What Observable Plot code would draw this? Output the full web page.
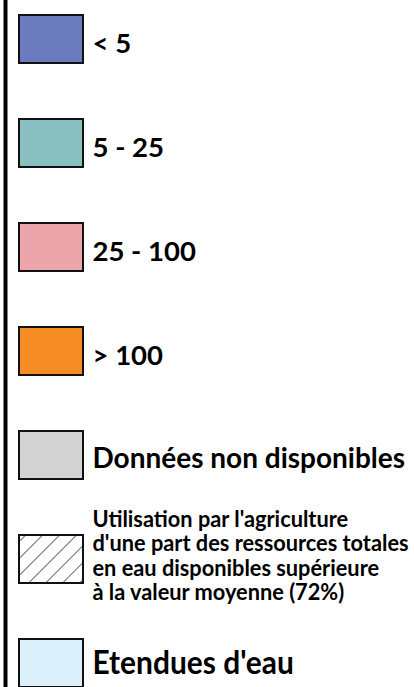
<!DOCTYPE html>
<html>
<head>
<meta charset="utf-8">
<script src="https://cdn.jsdelivr.net/npm/d3@7"></script>
<script src="https://cdn.jsdelivr.net/npm/@observablehq/plot@0.6"></script>
<style>
  html, body { margin: 0; padding: 0; background: #fff; }
  #chart { width: 414px; height: 687px; overflow: hidden; }
</style>
</head>
<body>
<div id="chart"></div>
<script>
const categories = ["< 5", "5 - 25", "25 - 100", "> 100", "Données non disponibles", "hatch", "Etendues d'eau"];
const labels = ["< 5", "5 - 25", "25 - 100", "> 100", "Données non disponibles",
  "Utilisation par l'agriculture\nd'une part des ressources totales\nen eau disponibles supérieure\nà la valeur moyenne (72%)",
  "Etendues d'eau"];
const swatchFills = ["#6b7bbd", "#88bfc1", "#eca6ab", "#f68d24", "#d3d3d3", "url(#hatch)", "#dcf0fb"];
const groups = ["range", "range", "range", "range", "na", "hatch", "water"];

const items = categories.map((c, i) => ({key: c, label: labels[i], fill: swatchFills[i], group: groups[i]}));
const font = "Lato, 'Open Sans', sans-serif";

const plot = Plot.plot({
  width: 414,
  height: 687,
  marginTop: 0, marginBottom: 0, marginRight: 0, marginLeft: 5,
  style: {fontFamily: font, background: "#fff", color: "#000"},
  x: {type: "band", domain: ["swatch"], range: [19, 83], padding: 0, axis: null},
  y: {type: "band", domain: categories, range: [15, 690], paddingInner: 1 - 48 / 104.5, paddingOuter: 0, align: 0, axis: null},
  color: {type: "identity"},
  marks: [
    Plot.frame({anchor: "left", stroke: "#000", strokeWidth: 4}),
    Plot.cell(items, {x: () => "swatch", y: "key", fill: "fill", stroke: "#111", strokeWidth: 2, inset: 0}),
    Plot.text(items.filter(d => d.group === "range"), {x: () => "swatch", y: "key", text: "label", textAnchor: "start", dx: 41, dy: 5, fontSize: 27.5, fontWeight: "bold"}),
    Plot.text(items.filter(d => d.group === "na"), {x: () => "swatch", y: "key", text: "label", textAnchor: "start", dx: 41, dy: 4, fontSize: 28, fontWeight: "bold"}),
    Plot.text(items.filter(d => d.group === "hatch"), {x: () => "swatch", y: "key", text: "label", textAnchor: "start", dx: 41, dy: -4, fontSize: 22, lineHeight: 1.11, fontWeight: "bold"}),
    Plot.text(items.filter(d => d.group === "water"), {x: () => "swatch", y: "key", text: "label", textAnchor: "start", dx: 41, dy: 0, fontSize: 32, fontWeight: "bold"})
  ]
});

const ns = "http://www.w3.org/2000/svg";
const defs = document.createElementNS(ns, "defs");
defs.innerHTML = '<pattern id="hatch" patternUnits="userSpaceOnUse" width="12" height="12" patternTransform="rotate(45)"><rect width="12" height="12" fill="#fff"/><line x1="0" y1="0" x2="0" y2="12" stroke="#000" stroke-width="1.2"/></pattern>';
plot.insertBefore(defs, plot.firstChild);

// horizontally condense the narrower label groups around their common start
const textGroups = plot.querySelectorAll('g[aria-label="text"]');
const squeeze = [1, 1, 0.99, 0.935];
textGroups.forEach((g, i) => {
  const s = squeeze[i];
  if (s === 1) return;
  const wrap = document.createElementNS(ns, "g");
  wrap.setAttribute("transform", `translate(92,0) scale(${s},1) translate(-92,0)`);
  g.parentNode.insertBefore(wrap, g);
  wrap.appendChild(g);
});
document.getElementById("chart").appendChild(plot);
</script>
</body>
</html>
